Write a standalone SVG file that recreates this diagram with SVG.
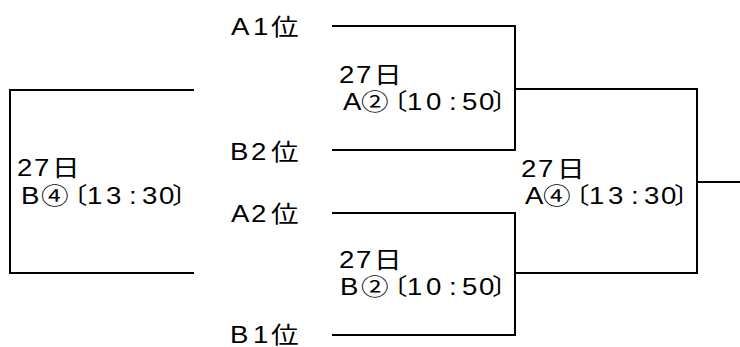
<svg xmlns="http://www.w3.org/2000/svg" width="740" height="347" viewBox="0 0 740 347">
<style>
.ln{fill:none;stroke:#000;stroke-width:2}
text{font-family:"Liberation Sans","Noto Sans CJK JP",sans-serif;font-size:23px;fill:#000}
</style>
<rect width="740" height="347" fill="#fff"/>
<g id="connectors">
<path class="ln" d="M332,26 H515 V150 H332"/>
<path class="ln" d="M332,213 H515 V335 H332"/>
<path class="ln" d="M515,89 H697 V273 H515"/>
<path class="ln" d="M697,182 H740"/>
<path class="ln" d="M194,90 H10 V273 H194"/>
</g>
<g id="teamA1" transform="scale(1.2,1)"><text x="192.5 210.8 225.8" y="35">A1位</text></g>
<g id="teamB2" transform="scale(1.2,1)"><text x="191.7 209.2 225.8" y="160">B2位</text></g>
<g id="teamA2" transform="scale(1.2,1)"><text x="192.5 209.2 225.8" y="222">A2位</text></g>
<g id="teamB1" transform="scale(1.2,1)"><text x="191.7 210.8 225.8" y="343">B1位</text></g>
<g id="matchA2" transform="scale(1.2,1)">
<text x="282.5 296.7 311.7" y="83">27日</text>
<text x="285.8 300.8 316.7 339.2 355 374.2 385 399.2 410" y="110">A②〔10:50〕</text>
</g>
<g id="matchB2" transform="scale(1.2,1)">
<text x="282.5 296.7 311.7" y="268">27日</text>
<text x="283.3 300.8 316.7 339.2 355 374.2 385 399.2 410" y="295">B②〔10:50〕</text>
</g>
<g id="matchB4" transform="scale(1.2,1)">
<text x="14.2 28.3 43.3" y="176">27日</text>
<text x="17.5 34.2 50 72.5 88.3 107.5 118.3 132.5 143.3" y="204">B④〔13:30〕</text>
</g>
<g id="matchA4" transform="scale(1.2,1)">
<text x="434.2 448.3 464.2" y="177">27日</text>
<text x="437.5 452.5 468.3 490.8 506.7 525.8 536.7 550.8 561.7" y="204">A④〔13:30〕</text>
</g>
</svg>
